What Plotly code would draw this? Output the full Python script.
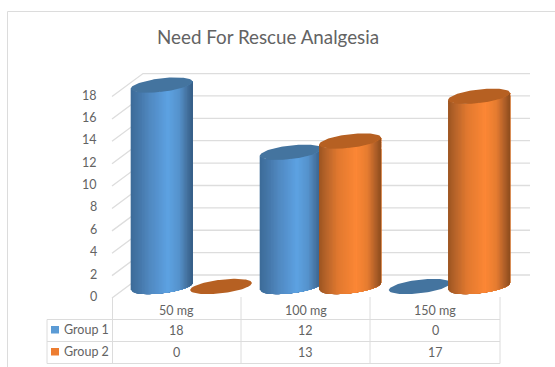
import plotly.graph_objects as go

# Chart content
TITLE = "Need For Rescue Analgesia"
doses = ["50 mg", "100 mg", "150 mg"]
group_names = ["Group 1", "Group 2"]
group_1 = [18, 12, 0]
group_2 = [0, 13, 17]
value_ticks = [0, 2, 4, 6, 8, 10, 12, 14, 16, 18]

W, H = 555, 367
TXT = "#636363"
GRID = "#dddddd"
FONT = "Lato"

# Scale of the plot box: pixels per category and per unit of value
PX_CAT = 129.0
PX_VAL = 11.19
LEFT = 112.0     # pixel x of the first category edge
FLOOR = 298.0    # pixel y of value 0 on the front plane
DEPTH_X = 31.0   # oblique offset of the back wall, pixels
DEPTH_Y = 23.0

RADIUS = 31.0 / PX_CAT
TILT = 3.5 / PX_VAL
MINOR = 6.8 / PX_VAL
OFFSET = 0.23

# Shading across a cylinder, left edge to right edge
BLUE = dict(cap="#44749f", ramp=[(0, "#3c6b98"), (0.12, "#4475a6"), (0.3, "#5088c0"),
                                 (0.6, "#5da2e2"), (0.78, "#5592cc"), (0.9, "#4674a2"),
                                 (1, "#345c84")], swatch="#5b9bd5")
ORANGE = dict(cap="#b66022", ramp=[(0, "#9c5420"), (0.12, "#b8642a"), (0.3, "#e0782f"),
                                   (0.6, "#fc8735"), (0.78, "#e67c30"), (0.9, "#b4622a"),
                                   (1, "#8c4c1c")], swatch="#ed7d31")


def project(u, v, depth=0.0):
    """Oblique projection of (category position, value, depth) onto the plot axes."""
    return u + depth * DEPTH_X / PX_CAT, v + depth * DEPTH_Y / PX_VAL


def rgb(h):
    return tuple(int(h[i:i + 2], 16) for i in (1, 3, 5))


def shade(ramp, t):
    for (a, ca), (b, cb) in zip(ramp, ramp[1:]):
        if t <= b:
            f = (t - a) / (b - a)
            c = [round(p + (q - p) * f) for p, q in zip(rgb(ca), rgb(cb))]
            return "rgb({},{},{})".format(*c)
    return ramp[-1][1]


def edge(cx, v, lat, side):
    """Point on a cylinder rim: lat in -1..1 across, side -1 front arc, +1 back arc."""
    root = max(0.0, 1 - lat * lat) ** 0.5
    return cx + RADIUS * lat, v + TILT * lat + MINOR * side * root


fig = go.Figure()


def poly(xs, ys, color):
    fig.add_trace(go.Scatter(x=xs, y=ys, mode="lines", fill="toself", fillcolor=color,
                             line=dict(width=0), hoverinfo="skip", showlegend=False))


# Back wall gridlines and left wall lines
for v in value_ticks:
    x0, y0 = project(0, v, 0)
    x1, y1 = project(0, v, 1)
    x2, y2 = project(len(doses), v, 1)
    fig.add_trace(go.Scatter(x=[x0, x1, x2], y=[y0, y1, y2], mode="lines",
                             line=dict(color=GRID, width=1.3), hoverinfo="skip",
                             showlegend=False))


def cylinder(cat, sign, value, style):
    u = cat + 0.495 + sign * OFFSET
    cx, cy = project(u, 0, 0.5)
    n = 44
    if value > 0:
        # Each strip runs from its left edge to the far right rim, so later
        # strips paint over the earlier ones and no seams show between them.
        for i in range(n):
            lats = [-1 + 2 * (i + k * (n - i) / 12) / n for k in range(13)]
            rim = [edge(cx, cy, t, -1) for t in lats]
            xs = [p[0] for p in rim]
            ys = [p[1] for p in rim]
            poly(xs + xs[::-1] + xs[:1],
                 ys + [y + value for y in ys[::-1]] + ys[:1],
                 shade(style["ramp"], (i + 0.5) / n))
    lats = [-1 + 2 * i / 40 for i in range(41)]
    front = [edge(cx, cy + value, t, -1) for t in lats]
    back = [edge(cx, cy + value, t, 1) for t in reversed(lats)]
    rim = front + back
    poly([p[0] for p in rim], [p[1] for p in rim], style["cap"])


for cat in range(len(doses)):
    cylinder(cat, -1, group_1[cat], BLUE)
    cylinder(cat, 1, group_2[cat], ORANGE)

annotations = []


def label(px, py, text, size=12.5, anchor="center"):
    annotations.append(dict(x=px / W, y=1 - py / H, xref="paper", yref="paper", text=text,
                            showarrow=False, xanchor=anchor, yanchor="middle",
                            font=dict(family=FONT, size=size, color=TXT)))


# Value labels along the front edge of the left wall
for v in value_ticks:
    label(98.5, FLOOR - 1.5 - v * PX_VAL, str(v), anchor="right")

label(268, 36, TITLE, size=18.8)

# Data table underneath the plot
TABLE_X = [47, 112.5, 241, 370, 500]
TABLE_Y = [319.5, 341.5, 363.5]
CAT_TOP = 297
shapes = []


def rule(x0, y0, x1, y1):
    shapes.append(dict(type="line", xref="paper", yref="paper", x0=x0 / W, x1=x1 / W,
                       y0=1 - y0 / H, y1=1 - y1 / H, line=dict(color="#dcdcdc", width=1)))


for y in TABLE_Y:
    rule(TABLE_X[0], y, TABLE_X[-1], y)
for i, x in enumerate(TABLE_X):
    rule(x, CAT_TOP if i else TABLE_Y[0], x, TABLE_Y[-1])

# Chart frame
rule(7.5, 11.5, W, 11.5)
rule(7.5, 11.5, 7.5, H)

for i, dose in enumerate(doses):
    cx = (TABLE_X[i + 1] + TABLE_X[i + 2]) / 2
    label(cx, 310, dose)
    label(cx, 330.5, str(group_1[i]))
    label(cx, 352.5, str(group_2[i]))

for name, style, py in zip(group_names, (BLUE, ORANGE), (329.5, 351.5)):
    label(61.5, py, name, anchor="left")
    shapes.append(dict(type="rect", xref="paper", yref="paper", x0=51 / W, x1=59 / W,
                       y0=1 - (py - 3.5) / H, y1=1 - (py + 4) / H,
                       fillcolor=style["swatch"], line=dict(width=0)))

fig.update_layout(
    width=W, height=H, margin=dict(l=0, r=0, t=0, b=0), autosize=False,
    paper_bgcolor="white", plot_bgcolor="white", showlegend=False,
    xaxis=dict(visible=False, range=[-LEFT / PX_CAT, (W - LEFT) / PX_CAT], domain=[0, 1]),
    yaxis=dict(visible=False, range=[(FLOOR - H) / PX_VAL, FLOOR / PX_VAL], domain=[0, 1]),
    annotations=annotations, shapes=shapes,
)

fig.write_html("out.html", config=dict(displayModeBar=False))
